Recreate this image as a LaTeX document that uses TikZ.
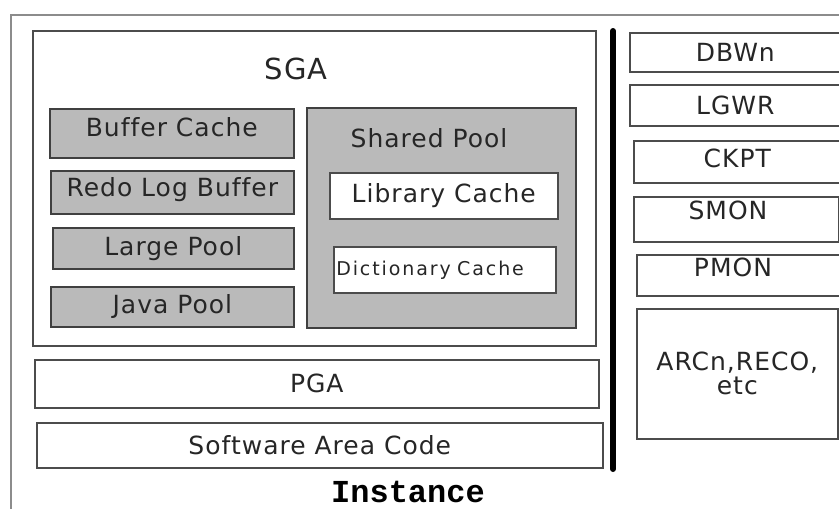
\documentclass[tikz,border=0pt]{standalone}
\usepackage{fontspec}
\setmainfont{DejaVu Sans}
\newfontfamily\boxfont[LetterSpace=4, Ligatures=NoCommon]{DejaVu Sans}
\newfontfamily\smallfont[LetterSpace=10, Ligatures=NoCommon]{DejaVu Sans}
\newfontfamily\instfont{Liberation Mono}

\begin{document}
\begin{tikzpicture}[x=1pt, y=-1pt, line join=miter,
    area/.style={draw=black!70, line width=1.6pt, fill=white, inner sep=0pt,
      anchor=north west, text=black!85, align=center,
      font=\boxfont\fontsize{25}{25}\selectfont},
    pool/.style={area, draw=black!75, fill=black!27},
    txt/.style={inner sep=0pt, text=black!85, font=\boxfont\fontsize{25}{25}\selectfont}]

  \useasboundingbox (0,0) rectangle (839,509);
  \clip (0,0) rectangle (839,509);

  % Buitenrand (loopt rechts en onder uit beeld)
  \draw[black!45, line width=2pt] (11,15) rectangle (870,540);

  % SGA met de geheugengebieden
  \node[area, minimum width=563, minimum height=315] (sga) at (32,30) {};
  \node[txt, font=\boxfont\fontsize{29}{29}\selectfont] (sgaT) at (296,69) {SGA};

  \node[pool, minimum width=244, minimum height=49, text depth=12pt] (buf) at (49,108) {Buffer Cache};
  \node[pool, minimum width=243, minimum height=43, text depth=11pt] (redo) at (50,170) {Redo Log Buffer};
  \node[pool, minimum width=241, minimum height=41] (large) at (52,227) {Large Pool};
  \node[pool, minimum width=243, minimum height=40] (java) at (50,286) {Java Pool};

  % Shared pool
  \node[pool, minimum width=269, minimum height=220] (shared) at (306,107) {};
  \node[txt] (sharedT) at (429,138) {Shared Pool};
  \node[area, minimum width=228, minimum height=46] (lib) at (329,172) {Library Cache};
  \node[area, minimum width=222, minimum height=46, text width=217, align=left,
    font=\smallfont\fontsize{19}{20}\selectfont] (dict) at (333,246) {Dictionary Cache};

  % PGA en code
  \node[area, minimum width=564, minimum height=48] (pga) at (34,359) {PGA};
  \node[area, minimum width=566, minimum height=45] (sw) at (36,422) {Software Area Code};

  % Scheidingslijn
  \coordinate (sepTop) at (613,31);
  \coordinate (sepBot) at (613,469);
  \draw[black, line width=6pt, line cap=round] (sepTop) -- (sepBot);

  % Achtergrondprocessen
  \node[area, minimum width=211, minimum height=39] (dbwn) at (629,32) {DBWn};
  \node[area, minimum width=211, minimum height=41] (lgwr) at (629,84) {LGWR};
  \node[area, minimum width=207, minimum height=42, text depth=7pt] (ckpt) at (633,140) {CKPT};
  \node[area, minimum width=205, minimum height=45] (smon) at (633,196) {};
  \node[txt] (smonT) at (728,210) {SMON};
  \node[area, minimum width=204, minimum height=41] (pmon) at (636,254) {};
  \node[txt] (pmonT) at (733,267) {PMON};
  \node[area, minimum width=201, minimum height=130, font=\boxfont\fontsize{25}{24}\selectfont] (arcn) at (636,308) {ARCn,RECO,\\etc};

  % Titel
  \node[inner sep=0pt, font=\instfont\bfseries\fontsize{32}{34}\selectfont] (inst) at (408,492) {Instance};
\end{tikzpicture}
\end{document}
